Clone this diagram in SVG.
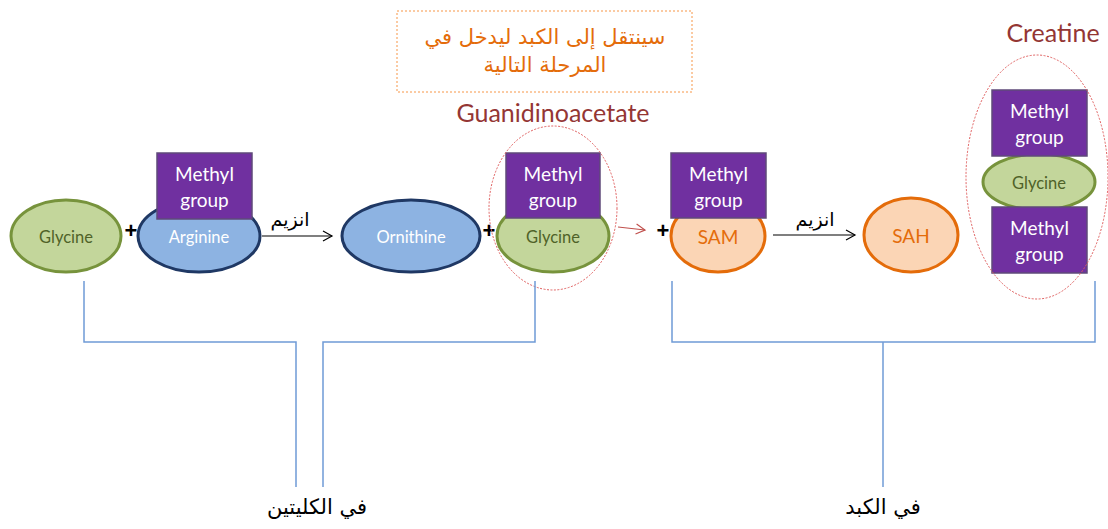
<svg xmlns="http://www.w3.org/2000/svg" width="1108" height="529" viewBox="0 0 1108 529">
<defs>
<style>
.gly{fill:#c3d69b;stroke:#77933c;stroke-width:3}
.blue{fill:#8db3e2;stroke:#1f3864;stroke-width:3}
.org{fill:#fbd5b5;stroke:#e46c0a;stroke-width:3}
.me{fill:#7030a0;stroke:#5f4a7a;stroke-width:1.5}
.met{font-family:Lato,"Liberation Sans",sans-serif;font-size:19px;fill:#fff;text-anchor:middle}
.gt{font-family:Lato,"Liberation Sans",sans-serif;font-size:16.5px;fill:#4f6228;text-anchor:middle}
.wt{font-family:Lato,"Liberation Sans",sans-serif;font-size:16.5px;fill:#fff;text-anchor:middle}
.ot{font-family:Lato,"Liberation Sans",sans-serif;font-size:19px;fill:#e46c0a;text-anchor:middle}
.plus{font-family:"Liberation Sans",sans-serif;font-size:22px;font-weight:bold;fill:#000;text-anchor:middle}
.ar{font-family:"DejaVu Sans",sans-serif;direction:rtl;text-anchor:middle}
.title{font-family:Lato,"Liberation Sans",sans-serif;font-size:25px;fill:#943634;text-anchor:middle}
.red{fill:none;stroke:#e06060;stroke-width:1;stroke-dasharray:2 1.5}
.br{fill:none;stroke:#6f9bd6;stroke-width:1.5}
.arr{stroke:#000;stroke-width:1.2;fill:none}
</style>
<marker id="ah" markerWidth="12" markerHeight="12" refX="10" refY="6" orient="auto" markerUnits="userSpaceOnUse">
<path d="M1,1 L10,6 L1,11" fill="none" stroke="#000" stroke-width="1.2"/>
</marker>
<marker id="ahr" markerWidth="12" markerHeight="12" refX="10" refY="6" orient="auto" markerUnits="userSpaceOnUse">
<path d="M1,1 L10,6 L1,11" fill="none" stroke="#c0504d" stroke-width="1.2"/>
</marker>
</defs>
<rect width="1108" height="529" fill="#fff"/>

<g id="note">
<rect x="397" y="11" width="295" height="81" fill="none" stroke="#f79646" stroke-width="1" stroke-dasharray="2 2"/>
<text class="ar" x="545" y="44" font-size="21" fill="#e46c0a">سينتقل إلى الكبد ليدخل في</text>
<text class="ar" x="545" y="72" font-size="21" fill="#e46c0a">المرحلة التالية</text>
</g>

<g id="glycine1">
<ellipse class="gly" cx="66" cy="236" rx="55" ry="36"/>
<text class="gt" x="66" y="243">Glycine</text>
</g>
<text class="plus" x="131" y="238">+</text>
<g id="arginine">
<ellipse class="blue" cx="199" cy="236" rx="61" ry="36"/>
<text class="wt" x="199" y="243">Arginine</text>
<rect class="me" x="157" y="153" width="95" height="66"/>
<text class="met" x="204.5" y="181">Methyl</text>
<text class="met" x="204.5" y="207">group</text>
</g>
<g id="ornithine">
<ellipse class="blue" cx="411" cy="236" rx="69" ry="36"/>
<text class="wt" x="411" y="243">Ornithine</text>
</g>
<text class="plus" x="489" y="238">+</text>
<g id="guanidinoacetate">
<ellipse class="gly" cx="553" cy="236" rx="56" ry="36"/>
<text class="gt" x="553" y="243">Glycine</text>
<rect class="me" x="506" y="153" width="94" height="65"/>
<text class="met" x="553" y="181">Methyl</text>
<text class="met" x="553" y="207">group</text>
<ellipse class="red" cx="553" cy="208" rx="64" ry="82"/>
<text class="title" x="553" y="122">Guanidinoacetate</text>
</g>
<text class="plus" x="663" y="238">+</text>
<g id="sam">
<ellipse class="org" cx="718" cy="236" rx="47" ry="36"/>
<text class="ot" x="718" y="244">SAM</text>
<rect class="me" x="671" y="153" width="95" height="65"/>
<text class="met" x="718.5" y="181">Methyl</text>
<text class="met" x="718.5" y="207">group</text>
</g>
<g id="sah">
<ellipse class="org" cx="911" cy="235" rx="47" ry="37"/>
<text class="ot" x="911" y="243">SAH</text>
</g>
<g id="creatine">
<ellipse class="gly" cx="1039" cy="182" rx="56" ry="28"/>
<text class="gt" x="1039" y="189">Glycine</text>
<rect class="me" x="992" y="90" width="95" height="66"/>
<text class="met" x="1039.5" y="118">Methyl</text>
<text class="met" x="1039.5" y="144">group</text>
<rect class="me" x="992" y="207" width="95" height="66"/>
<text class="met" x="1039.5" y="235">Methyl</text>
<text class="met" x="1039.5" y="261">group</text>
<ellipse class="red" cx="1037" cy="177" rx="71" ry="122"/>
<text class="title" x="1053" y="42">Creatine</text>
</g>

<g id="connectors">
<line class="arr" x1="262" y1="236" x2="332" y2="236" marker-end="url(#ah)"/>
<text class="ar" x="290" y="226" font-size="19" fill="#000">انزيم</text>
<line x1="618" y1="227" x2="645" y2="230" stroke="#c0504d" stroke-width="1.2" marker-end="url(#ahr)"/>
<line class="arr" x1="773" y1="235" x2="855" y2="235" marker-end="url(#ah)"/>
<text class="ar" x="815" y="226" font-size="19" fill="#000">انزيم</text>
<polyline class="br" points="84,281 84,342 296,342 296,487"/>
<polyline class="br" points="535,281 535,342 323,342 323,487"/>
<polyline class="br" points="672,281 672,342 1095,342 1095,281"/>
<line class="br" x1="883" y1="342" x2="883" y2="487"/>
</g>
<text class="ar" x="317" y="514" font-size="21" fill="#000">في الكليتين</text>
<text class="ar" x="883" y="514" font-size="21" fill="#000">في الكبد</text>
</svg>
